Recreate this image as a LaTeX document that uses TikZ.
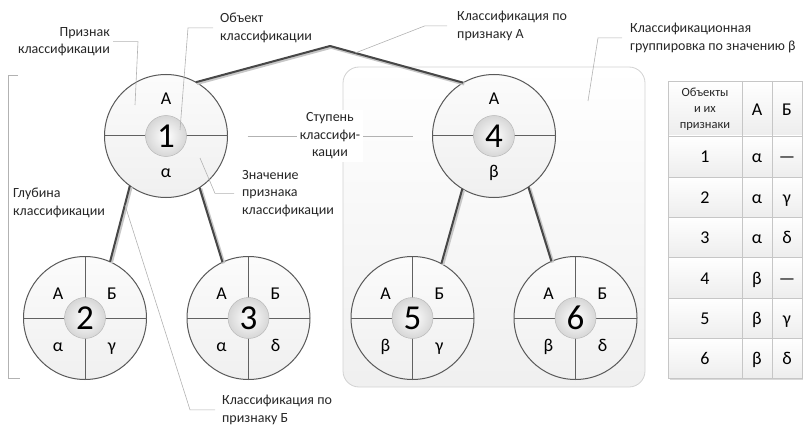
\documentclass[tikz,border=0pt]{standalone}
\usepackage{fontspec}
\setmainfont{Carlito}
\begin{document}
\begin{tikzpicture}[x=1pt,y=-1pt,
  lead/.style={draw=gray!60, line width=0.6pt},
  lbl/.style={inner sep=0pt, font=\fontsize{14}{17.5}\selectfont, text=black!85},
  conn/.style={draw=black!72, line width=2pt, line join=round,
    preaction={draw=black!22, line width=3.4pt, transform canvas={shift={(1.1pt,-1.1pt)}}}},
  disc/.style={circle, draw=black!65, line width=1pt, minimum size=123pt, inner sep=0pt, outer sep=0pt, top color=gray!3, bottom color=gray!12},
  divl/.style={draw=black!62, line width=1pt},
  ball/.style={circle, minimum size=41pt, inner sep=0pt, inner color=white, outer color=gray!32, draw=gray!55, line width=0.5pt, font=\fontsize{35}{35}\selectfont},
  sym/.style={font=\fontsize{18}{18}\selectfont, inner sep=0pt, anchor=base},
  tsym/.style={font=\fontsize{18}{18}\selectfont, inner sep=0pt, anchor=base},
  tgrid/.style={draw=gray!45, line width=0.7pt},
]
\useasboundingbox (0,0) rectangle (803,425);

% grouping box
\node[draw=gray!35, line width=0.8pt, rounded corners=16pt, top color=white, bottom color=gray!12,
  minimum width=302pt, minimum height=320pt, inner sep=0pt] (grp) at (494,227) {};

% depth bracket
\draw[lead] (18,75) -- (8,75) -- (8,378) -- (20,378);

% discs
\node[disc] (c1) at (166,136) {};
\node[disc] (c4) at (494,136) {};
\node[disc] (c2) at (85,318) {};
\node[disc] (c3) at (248.5,318) {};
\node[disc] (c5) at (412.5,318) {};
\node[disc] (c6) at (575.5,318) {};

% connectors
\coordinate (apex) at (330,46);
\draw[conn] (c1.61) -- (apex) -- coordinate[pos=0.19] (tKA) (c4.120.6);
\draw[conn] (c1.234) -- coordinate[pos=0.25] (tKB) (c2.66);
\draw[conn] (c1.303) -- (c3.115);
\draw[conn] (c4.239) -- (c5.62);
\draw[conn] (c4.304) -- (c6.113);

% dividers
\foreach \c in {c1,c4,c2,c3,c5,c6} \draw[divl] (\c.west) -- (\c.east);
\foreach \c in {c2,c3,c5,c6} \draw[divl] (\c.north) -- (\c.south);

% balls
\node[ball] (b1) at (c1) {1};
\node[ball] (b4) at (c4) {4};
\node[ball] (b2) at (c2) {2};
\node[ball] (b3) at (c3) {3};
\node[ball] (b5) at (c5) {5};
\node[ball] (b6) at (c6) {6};

% symbols
\node[sym] (s1a) at (166,105) {А};
\node[sym] (s1b) at (166,177) {α};
\node[sym] (s4a) at (494,105) {А};
\node[sym] (s4b) at (494,177) {β};
\node[sym] (s2a) at (58,299) {А};
\node[sym] (s2b) at (112,299) {Б};
\node[sym] (s2c) at (58,351) {α};
\node[sym] (s2d) at (112,351) {γ};
\node[sym] (s3a) at (221.5,299) {А};
\node[sym] (s3b) at (275.5,299) {Б};
\node[sym] (s3c) at (221.5,351) {α};
\node[sym] (s3d) at (275.5,351) {δ};
\node[sym] (s5a) at (385.5,299) {А};
\node[sym] (s5b) at (439.5,299) {Б};
\node[sym] (s5c) at (385.5,351) {β};
\node[sym] (s5d) at (439.5,351) {γ};
\node[sym] (s6a) at (548.5,299) {А};
\node[sym] (s6b) at (602.5,299) {Б};
\node[sym] (s6c) at (548.5,351) {β};
\node[sym] (s6d) at (602.5,351) {δ};

% labels
\node[lbl, anchor=north east, align=right] (lPriz) at (110,27) {Признак\\классификации};
\node[lbl, anchor=north west, align=left] (lObj) at (220,13) {Объект\\классификации};
\node[lbl, anchor=north west, align=left] (lKA) at (457,11) {Классификация по\\признаку А};
\node[lbl, anchor=north west, align=left] (lGr) at (630,23) {Классификационная\\группировка по значению β};
\draw[lead] ([xshift=20pt]c1.east) -- ([xshift=-20pt]c4.west);
\node[lbl, align=center, fill=white, inner sep=3pt] (lSt) at (330,136) {Ступень\\классифи-\\кации};
\node[lbl, anchor=north west, align=left] (lZn) at (242,170) {Значение\\признака\\классификации};
\node[lbl, anchor=north west, align=left] (lGl) at (13,188) {Глубина\\классификации};
\node[lbl, anchor=north west, align=left] (lKB) at (222,395) {Классификация по\\признаку Б};

% leaders
\coordinate (tPriz) at (135,105);
\coordinate (tObj) at (180,130);
\coordinate (tGr) at (588,101);
\coordinate (tZn) at (200,158);
\draw[lead] ([xshift=3pt]lPriz.east) -- ++(25,0) -- (tPriz);
\draw[lead] ([xshift=-7pt]lObj.west) -- ++(-25,0) -- (tObj);
\draw[lead] ([xshift=-10pt]lKA.west) -- ++(-22,0) -- (tKA);
\draw[lead] ([xshift=-8pt]lGr.west) -- ++(-24,0) -- (tGr);
\draw[lead] ([xshift=-8pt]lZn.west) -- ++(-19,0) -- (tZn);
\draw[lead] ([xshift=-7pt]lKB.west) -- ++(-25,0) -- (tKB);

% table
\fill[gray!30] (670,83) rectangle (803,380);
\foreach \ya/\yb in {81/136,136/177,177/217,217/257,257/298,298/338,338/378}
  \shade[top color=white, bottom color=gray!14] (668,\ya) rectangle (802,\yb);
\draw[tgrid] (668,81) rectangle (802,378);
\foreach \yy in {136,177,217,257,298,338} \draw[tgrid] (668,\yy) -- (802,\yy);
\draw[tgrid] (742,81) -- (742,378);
\draw[tgrid] (772,81) -- (772,378);
\node[inner sep=0pt, align=center, font=\fontsize{12.5}{16}\selectfont, text=black!85] (th) at (705,109) {Объекты\\и их\\признаки};
\node[tsym] (thA) at (757,115.5) {А};
\node[tsym] (thB) at (787,115.5) {Б};
\foreach \n/\yy/\va/\vb in {1/163/α/—, 2/203.5/α/γ, 3/243.5/α/δ, 4/284/β/—, 5/324.5/β/γ, 6/364.5/β/δ}{
  \node[tsym] (tn\n) at (705,\yy) {\n};
  \node[tsym] (ta\n) at (757,\yy) {\va};
  \node[tsym] (tb\n) at (787,\yy) {\vb};
}
\end{tikzpicture}
\end{document}
